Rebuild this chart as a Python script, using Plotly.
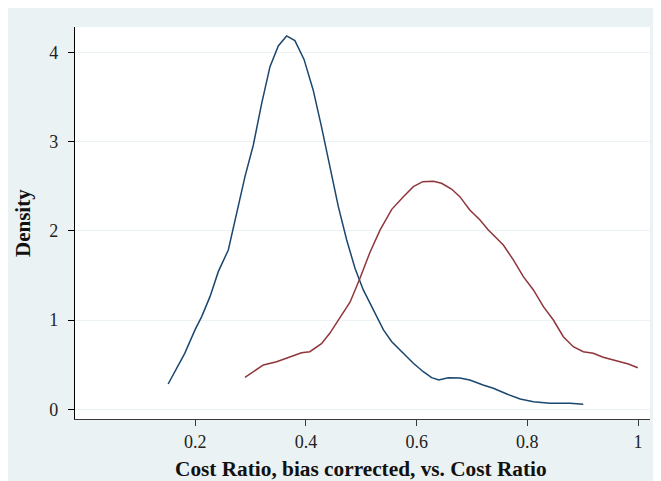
import plotly.graph_objects as go

# Blue curve (navy) : Cost Ratio, bias corrected
blue_x = [0.151, 0.181, 0.1995, 0.2116, 0.2266, 0.2416, 0.2597, 0.2748, 0.2898, 0.3049,
          0.320, 0.335, 0.350, 0.365, 0.380, 0.3965, 0.413, 0.428, 0.443, 0.4585,
          0.4736, 0.4886, 0.5036, 0.5217, 0.540, 0.555, 0.576, 0.594, 0.612,
          0.627, 0.640, 0.657, 0.678, 0.696, 0.720, 0.7385, 0.763, 0.787, 0.811,
          0.841, 0.877, 0.901]
blue_y = [0.283, 0.627, 0.889, 1.038, 1.262, 1.542, 1.785, 2.196, 2.606, 2.961,
          3.428, 3.839, 4.071, 4.183, 4.130, 3.920, 3.578, 3.167, 2.718, 2.270,
          1.897, 1.580, 1.337, 1.113, 0.889, 0.757, 0.627, 0.515, 0.421,
          0.354, 0.328, 0.354, 0.351, 0.328, 0.272, 0.235, 0.171, 0.115, 0.085,
          0.067, 0.067, 0.056]

# Red curve (maroon) : Cost Ratio
red_x = [0.2898, 0.305, 0.323, 0.347, 0.371, 0.392, 0.407, 0.428, 0.443, 0.4585,
         0.4796, 0.4976, 0.5157, 0.534, 0.555, 0.576, 0.594, 0.611, 0.630, 0.645,
         0.663, 0.678, 0.696, 0.7145, 0.7295, 0.7566, 0.7747, 0.7927, 0.811, 0.829,
         0.847, 0.865, 0.883, 0.901, 0.919, 0.937, 0.9615, 0.9825, 0.9995]
red_y = [0.358, 0.421, 0.496, 0.533, 0.583, 0.634, 0.645, 0.735, 0.851, 1.000,
         1.200, 1.468, 1.760, 2.009, 2.240, 2.382, 2.494, 2.550, 2.555, 2.532,
         2.468, 2.382, 2.233, 2.121, 2.009, 1.841, 1.673, 1.486, 1.337, 1.150,
         1.000, 0.813, 0.701, 0.645, 0.627, 0.583, 0.545, 0.508, 0.466]

x_tickvals = [0.2, 0.4, 0.6, 0.8, 1.0]
x_ticktext = ["0.2", "0.4", "0.6", "0.8", "1"]
y_tickvals = [0, 1, 2, 3, 4]
y_ticktext = ["0", "1", "2", "3", "4"]

x_title = "Cost Ratio, bias corrected, vs. Cost Ratio"
y_title = "Density"

BG = "#EAF2F3"
FONT = "Liberation Serif"

fig = go.Figure()
fig.add_trace(go.Scatter(x=blue_x, y=blue_y, mode="lines",
                         line=dict(color="#1A476F", width=1.5), showlegend=False))
fig.add_trace(go.Scatter(x=red_x, y=red_y, mode="lines",
                         line=dict(color="#90353B", width=1.5), showlegend=False))

fig.update_layout(
    width=661, height=481,
    margin=dict(l=67, r=19, t=19, b=70),
    paper_bgcolor=BG, plot_bgcolor="white",
    font=dict(family=FONT, color="#111111", size=18),
    showlegend=False,
    xaxis=dict(range=[-0.0173, 1.0216], tickvals=x_tickvals, ticktext=x_ticktext,
               showgrid=False, zeroline=False, showline=True, linecolor="#3a3a3a",
               linewidth=1.3, ticks="outside", ticklen=6, tickcolor="#3a3a3a",
               tickfont=dict(family=FONT, size=18, color="#222222")),
    yaxis=dict(range=[-0.109, 4.283], tickvals=y_tickvals, ticktext=y_ticktext,
               showgrid=True, gridcolor=BG, gridwidth=1, zeroline=False,
               showline=True, linecolor="black", linewidth=1.3, ticks="outside",
               ticklen=6, tickcolor="black", ticklabelstandoff=6,
               tickfont=dict(family=FONT, size=18, color="#222222")),
    annotations=[
        dict(text="<b>" + x_title + "</b>", xref="paper", yref="paper",
             x=0.497, y=-0.1276, xanchor="center", yanchor="middle", showarrow=False,
             font=dict(family=FONT, size=21.3, color="#111111")),
        dict(text="<b>" + y_title + "</b>", xref="paper", yref="paper",
             x=-0.0904, y=0.5, xanchor="center", yanchor="middle", showarrow=False,
             textangle=-90, font=dict(family=FONT, size=21, color="#111111")),
    ],
)

fig.write_html("out.html")
